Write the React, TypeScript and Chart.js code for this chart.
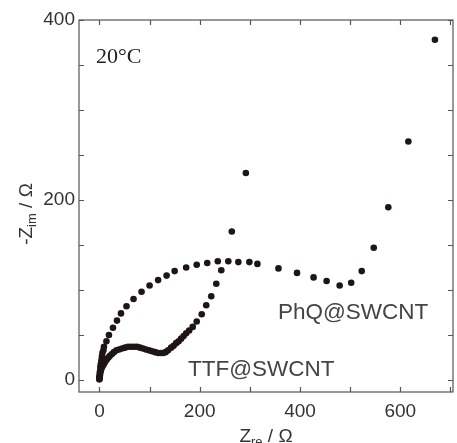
import React, { useEffect, useRef } from "react";
import { Chart, registerables } from "chart.js";

Chart.register(...registerables);

// PhQ@SWCNT Nyquist points [Zre, -Zim]
const phqX = [0, 0, 1, 1, 2, 2, 3, 4, 5, 6, 8, 9, 14, 19, 27, 35, 43, 54, 68, 84, 100, 117, 134, 150, 173, 194, 215, 236, 257, 277, 299, 315, 357, 394, 427, 453, 479, 502, 523, 547, 576, 616, 669];
const phqY = [1, 3, 6, 9, 12, 15, 18, 22, 26, 30, 33, 37, 43, 50, 58, 66, 74, 82, 90, 98, 105, 111, 116, 121, 125, 128, 130, 132, 132, 131, 131, 129, 124, 119, 114, 110, 105, 108, 121, 147, 192, 265, 378];

// TTF@SWCNT Nyquist points [Zre, -Zim]
const ttfX = [0, 0, 1, 1, 2, 3, 4, 6, 8, 10, 12, 15, 18, 21, 25, 29, 34, 39, 45, 51, 57, 63, 69, 75, 81, 87, 93, 99, 105, 111, 117, 122, 127, 132, 137, 143, 148, 153, 158, 163, 168, 173, 179, 186, 194, 204, 213, 223, 233, 243, 264, 292];
const ttfY = [1, 3, 5, 7, 9, 11, 13, 15, 17, 19, 21, 23, 25, 27, 29, 31, 33, 34, 35, 36, 37, 37, 37, 37, 36, 35, 34, 33, 32, 31, 30, 30, 30, 31, 33, 36, 38, 41, 43, 46, 49, 52, 55, 59, 65, 73, 83, 93, 107, 122, 165, 230];

const xTickLabels = [0, 200, 400, 600];
const yTickLabels = [0, 200, 400];
const xMinorTicks = [0, 100, 200, 300, 400, 500, 600, 700];
const yMinorTicks = [0, 50, 100, 150, 200, 250, 300, 350, 400];

const X_MIN = -40.7;
const X_MAX = 705;
const Y_MIN = -13.3;
const Y_MAX = 400;

const DOT = "#1e1614";
const INK = "#333333";

const framePlugin = {
  id: "frameAndText",
  afterDraw(chart: any) {
    const { ctx, chartArea } = chart;
    const xs = chart.scales.x;
    const ys = chart.scales.y;
    const { left, right, top, bottom } = chartArea;
    ctx.save();
    ctx.strokeStyle = "#555";
    ctx.lineWidth = 1.2;
    ctx.strokeRect(left, top, right - left, bottom - top);
    const tl = 5;
    ctx.beginPath();
    xMinorTicks.forEach((v) => {
      const px = Math.round(xs.getPixelForValue(v)) + 0.5;
      ctx.moveTo(px, bottom);
      ctx.lineTo(px, bottom - tl);
      ctx.moveTo(px, top);
      ctx.lineTo(px, top + tl);
    });
    yMinorTicks.forEach((v) => {
      const py = Math.round(ys.getPixelForValue(v)) + 0.5;
      ctx.moveTo(left, py);
      ctx.lineTo(left + tl, py);
      ctx.moveTo(right, py);
      ctx.lineTo(right - tl, py);
    });
    ctx.stroke();

    // in-plot labels
    ctx.fillStyle = "#222";
    ctx.font = '22px "Liberation Serif", serif';
    ctx.textBaseline = "middle";
    ctx.textAlign = "left";
    ctx.fillText("20\u00B0C", 96, 57);

    ctx.fillStyle = "#444";
    ctx.font = '22.5px "Liberation Sans", Arial, sans-serif';
    ctx.fillText("PhQ@SWCNT", 278, 313);
    ctx.fillText("TTF@SWCNT", 188, 370);

    // x axis title with subscript
    ctx.fillStyle = INK;
    ctx.textBaseline = "alphabetic";
    const mainFont = '19px "Liberation Sans", Arial, sans-serif';
    const subFont = '13px "Liberation Sans", Arial, sans-serif';
    const xParts = [
      { t: "Z", f: mainFont, dy: 0 },
      { t: "re", f: subFont, dy: 4 },
      { t: " / \u03A9", f: mainFont, dy: 0 },
    ];
    let w = 0;
    xParts.forEach((p) => {
      ctx.font = p.f;
      w += ctx.measureText(p.t).width;
    });
    let cx = (left + right) / 2 - w / 2;
    const xBase = 442;
    xParts.forEach((p) => {
      ctx.font = p.f;
      ctx.fillText(p.t, cx, xBase + p.dy);
      cx += ctx.measureText(p.t).width;
    });

    // y axis title rotated
    const yParts = [
      { t: "-Z", f: mainFont, dy: 0 },
      { t: "im", f: subFont, dy: 4 },
      { t: " / \u03A9", f: mainFont, dy: 0 },
    ];
    w = 0;
    yParts.forEach((p) => {
      ctx.font = p.f;
      w += ctx.measureText(p.t).width;
    });
    ctx.translate(32, 214);
    ctx.rotate(-Math.PI / 2);
    cx = -w / 2;
    yParts.forEach((p) => {
      ctx.font = p.f;
      ctx.fillText(p.t, cx, p.dy);
      cx += ctx.measureText(p.t).width;
    });
    ctx.restore();
  },
};

export default function App() {
  const ref = useRef<HTMLCanvasElement>(null);
  useEffect(() => {
    if (!ref.current) return;
    const chart = new Chart(ref.current, {
      type: "scatter",
      data: {
        datasets: [
          {
            label: "PhQ@SWCNT",
            data: phqX.map((x, i) => ({ x, y: phqY[i] })),
            backgroundColor: DOT,
            borderColor: DOT,
            pointRadius: 3.3,
            borderWidth: 0,
          },
          {
            label: "TTF@SWCNT",
            data: ttfX.map((x, i) => ({ x, y: ttfY[i] })),
            backgroundColor: DOT,
            borderColor: DOT,
            pointRadius: 3.3,
            borderWidth: 0,
          },
        ],
      },
      options: {
        responsive: false,
        animation: false,
        events: [],
        layout: { padding: { top: 20, right: 2, left: 0, bottom: 0 } },
        plugins: { legend: { display: false }, tooltip: { enabled: false } },
        scales: {
          x: {
            type: "linear",
            min: X_MIN,
            max: X_MAX,
            grid: { display: false, drawTicks: false },
            border: { display: false },
            afterBuildTicks: (s: any) => {
              s.ticks = xTickLabels.map((v) => ({ value: v }));
            },
            afterFit: (s: any) => {
              s.height = 51;
            },
            ticks: {
              padding: 8,
              color: INK,
              font: { family: '"Liberation Sans", Arial, sans-serif', size: 19 },
              maxRotation: 0,
              autoSkip: false,
            },
          },
          y: {
            type: "linear",
            min: Y_MIN,
            max: Y_MAX,
            grid: { display: false, drawTicks: false },
            border: { display: false },
            afterBuildTicks: (s: any) => {
              s.ticks = yTickLabels.map((v) => ({ value: v }));
            },
            afterFit: (s: any) => {
              s.width = 79;
            },
            ticks: {
              padding: 4,
              color: INK,
              font: { family: '"Liberation Sans", Arial, sans-serif', size: 19 },
              autoSkip: false,
            },
          },
        },
      },
      plugins: [framePlugin],
    });
    return () => chart.destroy();
  }, []);
  return (
    <div style={{ position: "fixed", left: 0, top: 0, width: 457, height: 443, background: "#fff" }}>
      <canvas ref={ref} width={457} height={443} style={{ width: 457, height: 443 }} />
    </div>
  );
}
